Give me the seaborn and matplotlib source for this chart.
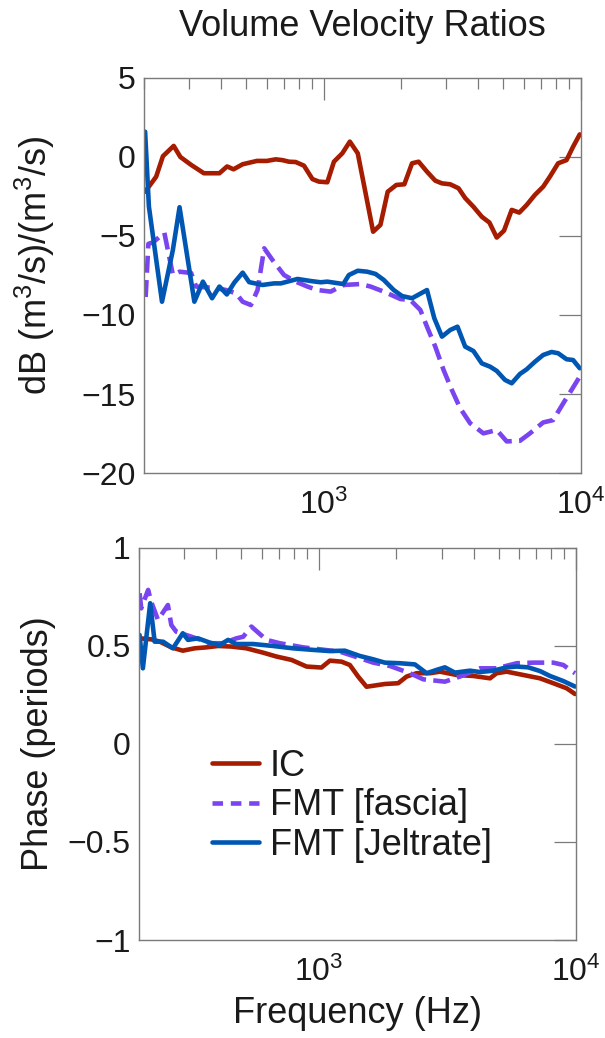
import numpy as np
import pandas as pd
import matplotlib
matplotlib.use("Agg")
import matplotlib.pyplot as plt
import seaborn as sns
from matplotlib.ticker import LogLocator, NullFormatter, FuncFormatter, FixedLocator

# ---------------- data ----------------
series_names = ["IC", "FMT [fascia]", "FMT [Jeltrate]"]
series_colors = ["#A51C00", "#7A45F0", "#0057B3"]

# Top panel: magnitude (dB)
ic_mag_f = [202, 223, 237, 261, 277, 305, 342, 393, 421, 446, 484, 550, 601, 651, 691, 733,
            778, 838, 904, 958, 1033, 1096, 1181, 1264, 1357, 1557, 1662, 1774, 1917, 2059,
            2206, 2340, 2522, 2717, 2884, 3105, 3345, 3550, 3823, 4120, 4411, 4710, 5028,
            5386, 5764, 6157, 6630, 7140, 7580, 8163, 8799, 9333, 9908]
ic_mag_db = [-2.2, -1.25, 0.05, 0.7, 0.0, -0.5, -1.03, -1.03, -0.6, -0.78, -0.46, -0.25, -0.25,
             -0.15, -0.2, -0.3, -0.32, -0.55, -1.4, -1.56, -1.6, -0.3, 0.23, 0.97, 0.23, -4.73,
             -4.3, -2.2, -1.77, -1.73, -0.4, -0.3, -0.93, -1.5, -1.67, -1.73, -1.98, -2.6, -3.15,
             -3.78, -4.15, -5.1, -4.66, -3.35, -3.52, -3.04, -2.4, -1.88, -1.25, -0.4, -0.2,
             0.65, 1.43]

fascia_mag_f = [203, 208, 217, 240, 259, 275, 305, 319, 381, 417, 456, 484, 521, 553, 587, 632,
                701, 778, 864, 945, 1064, 1198, 1391, 1521, 1712, 1987, 2173, 2376, 2522, 2716,
                2926, 3152, 3395, 3712, 4180, 4711, 5151, 5800, 6341, 7140, 7806, 8535, 9200,
                9906]
fascia_mag_db = [-8.86, -5.5, -5.4, -4.8, -7.45, -7.26, -7.34, -8.2, -8.3, -8.42, -8.63, -9.16,
                 -9.37, -8.42, -5.78, -6.52, -7.47, -7.89, -8.2, -8.42, -8.52, -8.1, -8.04,
                 -8.2, -8.52, -8.99, -9.05, -9.68, -10.74, -12.0, -13.48, -14.75, -15.9,
                 -16.85, -17.49, -17.28, -18.0, -17.96, -17.49, -16.8, -16.65, -15.6, -14.75,
                 -13.9]

jel_mag_f = [202, 209, 235, 259, 275, 314, 339, 368, 393, 420, 449, 484, 513, 578, 641, 681,
             791, 890, 973, 1033, 1192, 1253, 1357, 1476, 1590, 1712, 1872, 2017, 2206, 2522,
             2692, 2884, 3105, 3314, 3550, 3823, 4120, 4438, 4711, 5073, 5386, 5800, 6157,
             6630, 7140, 7696, 8163, 8799, 9333, 9906]
jel_mag_db = [1.6, -3.14, -9.16, -5.89, -3.18, -9.16, -7.89, -8.94, -8.2, -8.7, -7.95, -7.32,
              -7.92, -8.1, -8.0, -8.0, -7.72, -7.85, -7.93, -7.89, -8.04, -7.47, -7.2, -7.26,
              -7.4, -7.78, -8.42, -8.8, -8.94, -8.42, -10.2, -11.37, -10.95, -10.74, -12.0,
              -12.28, -13.06, -13.27, -13.54, -14.11, -14.32, -13.73, -13.44, -12.96, -12.53,
              -12.34, -12.42, -12.8, -12.85, -13.37]

# Bottom panel: phase (periods)
ic_ph_f = [201, 223, 241, 267, 296, 329, 366, 406, 457, 523, 607, 685, 783, 896, 1024, 1104,
           1226, 1320, 1422, 1533, 1806, 2035, 2194, 2400, 2704, 2957, 3435, 3985, 4629, 4914,
           5375, 6236, 7242, 8161, 9202, 9911]
ic_ph = [0.539, 0.534, 0.522, 0.493, 0.476, 0.488, 0.493, 0.5, 0.497, 0.488, 0.466, 0.446,
         0.429, 0.395, 0.39, 0.425, 0.42, 0.403, 0.344, 0.292, 0.306, 0.31, 0.344, 0.361,
         0.361, 0.369, 0.352, 0.347, 0.335, 0.361, 0.369, 0.352, 0.335, 0.31, 0.284, 0.255]

fascia_ph_f = [201, 204, 217, 223, 237, 259, 267, 279, 334, 377, 424, 478, 508, 547, 626, 705,
               869, 1009, 1207, 1360, 1627, 1889, 2260, 2546, 3092, 3537, 4231, 4914, 5880,
               6823, 8161, 8925, 9478, 9911]
fascia_ph = [0.769, 0.692, 0.786, 0.726, 0.633, 0.709, 0.607, 0.573, 0.539, 0.514, 0.514,
             0.539, 0.547, 0.599, 0.531, 0.514, 0.493, 0.483, 0.471, 0.449, 0.415, 0.398,
             0.361, 0.33, 0.318, 0.344, 0.386, 0.386, 0.412, 0.415, 0.415, 0.403, 0.378, 0.361]

jel_ph_f = [201, 207, 221, 230, 248, 271, 296, 310, 339, 377, 412, 444, 478, 555, 664, 794, 950,
            1104, 1262, 1444, 1627, 1806, 2066, 2363, 2625, 2871, 3092, 3382, 3869, 4231, 4767,
            5375, 5880, 6521, 7242, 7921, 8925, 9911]
jel_ph = [0.556, 0.386, 0.718, 0.522, 0.522, 0.488, 0.565, 0.531, 0.539, 0.517, 0.505, 0.531,
          0.51, 0.51, 0.5, 0.488, 0.48, 0.474, 0.476, 0.449, 0.432, 0.415, 0.412, 0.406, 0.361,
          0.378, 0.391, 0.364, 0.374, 0.367, 0.374, 0.391, 0.395, 0.391, 0.372, 0.347, 0.321,
          0.293]

title_text = "Volume Velocity Ratios"
top_ylabel = "dB (m$^3$/s)/(m$^3$/s)"
bottom_ylabel = "Phase (periods)"
xlabel_text = "Frequency (Hz)"
top_yticks = [-20, -15, -10, -5, 0, 5]
bottom_yticks = [-1, -0.5, 0, 0.5, 1]

# ---------------- style ----------------
sns.set_theme(style="white")
plt.rcParams["font.family"] = ["Liberation Sans", "DejaVu Sans"]
plt.rcParams["mathtext.fontset"] = "custom"
plt.rcParams["mathtext.rm"] = "Liberation Sans"
plt.rcParams["mathtext.it"] = "Liberation Sans:italic"
plt.rcParams["mathtext.bf"] = "Liberation Sans:bold"
plt.rcParams["axes.unicode_minus"] = True

TXT = "#1a1a1a"
GRAY = "#7a7a7a"
LW = 3.3

fig = plt.figure(figsize=(6.05, 10.38), dpi=100)
ax1 = fig.add_axes([0.238, 0.5443, 0.722, 0.3806])
ax2 = fig.add_axes([0.2298, 0.0944, 0.7223, 0.3777])

mag = [(ic_mag_f, ic_mag_db), (fascia_mag_f, fascia_mag_db), (jel_mag_f, jel_mag_db)]
ph = [(ic_ph_f, ic_ph), (fascia_ph_f, fascia_ph), (jel_ph_f, jel_ph)]
styles = ["-", "--", "-"]

for (fx, fy), name, col, ls in zip(mag, series_names, series_colors, styles):
    sns.lineplot(x=fx, y=fy, ax=ax1, color=col, linewidth=LW, linestyle=ls, sort=False)
for (fx, fy), name, col, ls in zip(ph, series_names, series_colors, styles):
    sns.lineplot(x=fx, y=fy, ax=ax2, color=col, linewidth=LW, linestyle=ls, sort=False,
                 label=name)

fmt = FuncFormatter(lambda v, p: f"{v:g}".replace("-", "\u2212"))

for ax, yt in [(ax1, top_yticks), (ax2, bottom_yticks)]:
    ax.set_xscale("log")
    ax.set_xlim(200, 10000)
    ax.set_ylim(yt[0], yt[-1])
    ax.yaxis.set_major_locator(FixedLocator(yt))
    ax.yaxis.set_major_formatter(fmt)
    ax.xaxis.set_major_locator(LogLocator(base=10))
    ax.xaxis.set_minor_locator(LogLocator(base=10, subs=np.arange(2, 10)))
    ax.xaxis.set_minor_formatter(NullFormatter())
    ax.tick_params(which="both", direction="in", top=True, right=True, color=GRAY,
                   width=0.9, labelsize=23, labelcolor=TXT)
    ax.tick_params(which="major", length=16)
    ax.tick_params(which="minor", length=8)
    ax.tick_params(axis="y", pad=6)
    ax.tick_params(axis="x", pad=12)
    for s in ax.spines.values():
        s.set_color(GRAY)
        s.set_linewidth(1.0)
    ax.set_xlabel("")
    ax.set_ylabel("")

ax1.set_title(title_text, fontsize=26, color=TXT, pad=30)
ax1.set_ylabel(top_ylabel, fontsize=26, color=TXT)
ax1.yaxis.set_label_coords(-0.2, 0.525)
ax2.set_ylabel(bottom_ylabel, fontsize=26, color=TXT)
ax2.yaxis.set_label_coords(-0.19, 0.5)
ax2.set_xlabel(xlabel_text, fontsize=26, color=TXT, labelpad=6)

leg = ax2.legend(loc="upper left", bbox_to_anchor=(0.167, 0.488), frameon=False, fontsize=26,
                 handlelength=1.3, handletextpad=0.3, labelspacing=0.13, borderpad=0,
                 borderaxespad=0)
for t in leg.get_texts():
    t.set_color(TXT)
leg.get_lines()[1].set_dashes([2.3, 1.7])

fig.savefig("out.png", dpi=100)
